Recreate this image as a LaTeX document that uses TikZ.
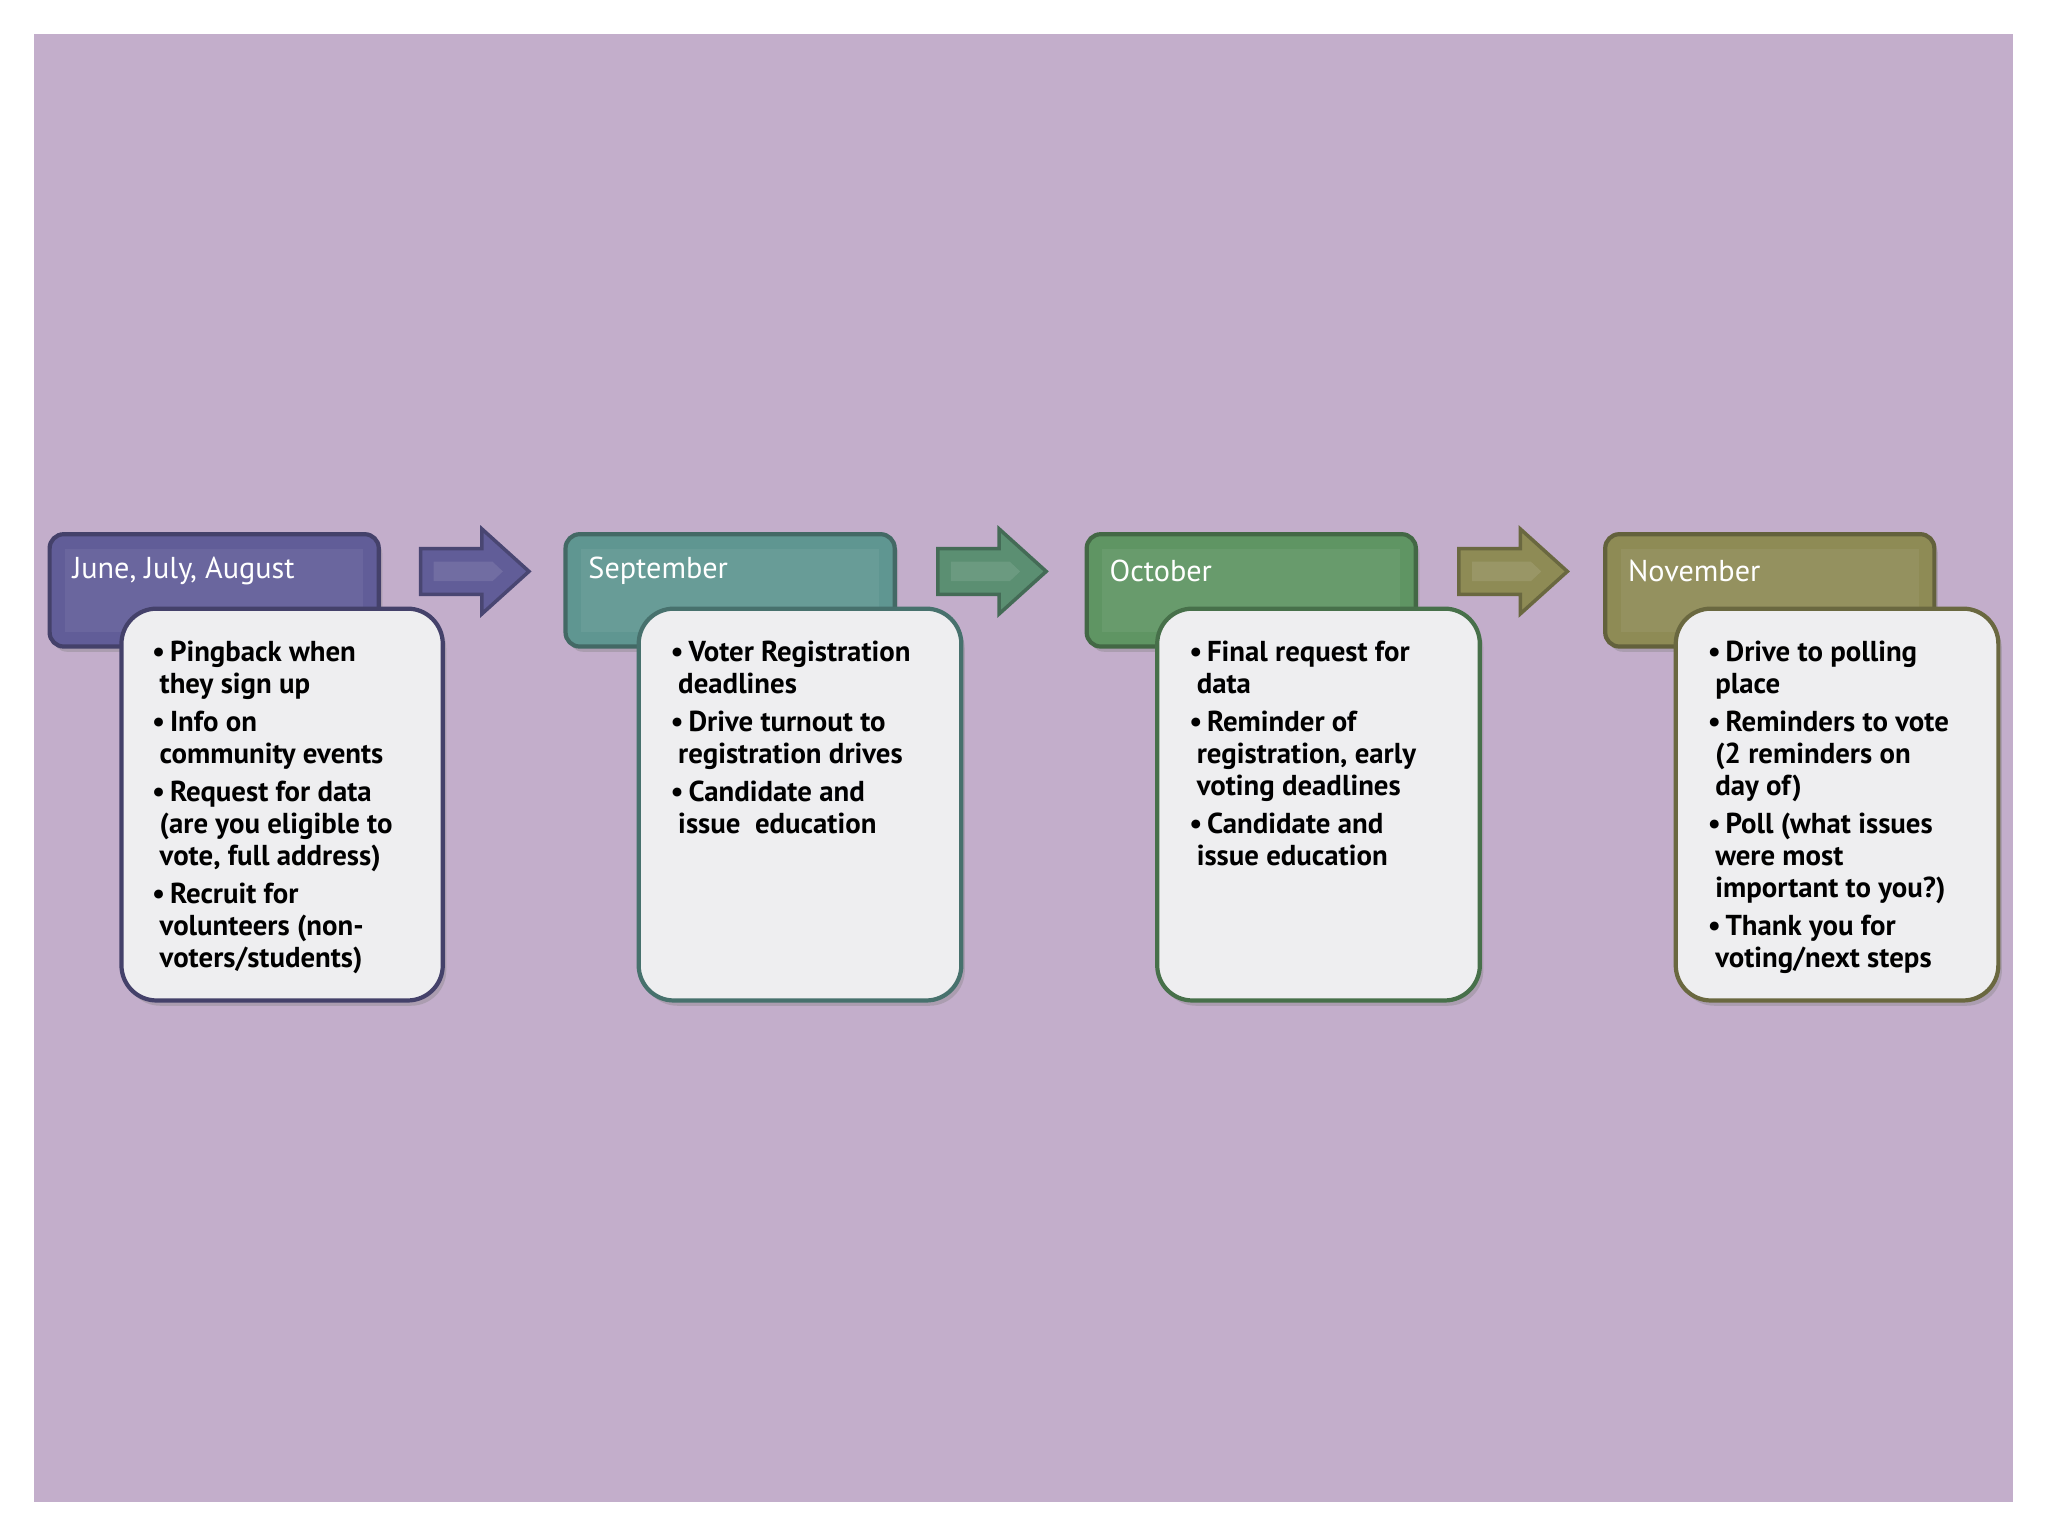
\documentclass[tikz,border=0pt]{standalone}
\usepackage{fontspec}
\setmainfont{PT Sans}
\usetikzlibrary{shadows}
\definecolor{bg}{HTML}{C3AECB}
\definecolor{cA}{HTML}{615D98}
\definecolor{cB}{HTML}{5F9691}
\definecolor{cC}{HTML}{5F9563}
\definecolor{cD}{HTML}{8E8B55}
\definecolor{aB}{HTML}{5B8F72}
\definecolor{boxfill}{HTML}{EEEEF0}
\newcommand{\ci}{\hspace*{0.075cm}}
\begin{document}
\begin{tikzpicture}[x=0.013061cm,y=-0.013061cm,
  hdr/.style={draw=#1!70!black,line width=1.2pt,rounded corners=4pt,fill=#1,drop shadow={opacity=0.35,shadow xshift=1pt,shadow yshift=-1.5pt}},
  bx/.style={draw=#1,line width=1.2pt,rounded corners=10pt,fill=boxfill,drop shadow={opacity=0.35,shadow xshift=1pt,shadow yshift=-1.5pt}},
  arr/.style={draw=#1!75!black,line width=1pt,fill=#1},
  htxt/.style={text=white,font=\fontsize{8.6}{10}\selectfont,anchor=west,inner sep=0pt},
  btxt/.style={font=\bfseries\fontsize{8.2}{9.1}\selectfont,align=left,anchor=north west,inner sep=0pt}]
\useasboundingbox (0,0) rectangle (1568,1176);
\fill[white] (0,0) rectangle (1568,1176);
\fill[bg] (26,26) rectangle (1541,1150);
\foreach \x/\c in {38/cA,433/cB,832/cC,1229/cD}{
  \draw[hdr=\c] (\x,409) rectangle ++(252,86);
  \fill[white,opacity=0.06] (\x+12,420) rectangle ++(228,64);
}
\foreach \x/\c in {322/cA,718/aB,1117/cD}{
  \draw[arr=\c] (\x,420) -- (\x+47,420) -- (\x+47,405) -- (\x+83,437.5) -- (\x+47,470) -- (\x+47,455) -- (\x,455) -- cycle;
  \fill[white,opacity=0.1] (\x+10,430) -- (\x+55,430) -- (\x+63,437.5) -- (\x+55,445) -- (\x+10,445) -- cycle;
}
\node[htxt] (h1) at (55,437) {June, July, August};
\node[htxt] (h2) at (450,437) {September};
\node[htxt] (h3) at (849,437) {October};
\node[htxt] (h4) at (1246,437) {November};
\draw[bx=cA!70!black] (93,466) rectangle (339,766);
\draw[bx=cB!75!black] (489,466) rectangle (736,766);
\draw[bx=cC!75!black] (886,466) rectangle (1133,766);
\draw[bx=cD!75!black] (1283,466) rectangle (1530,766);
\node[btxt] (t1) at (116,490) {\textbullet\,Pingback when\\\ci they sign up\\[0.06cm]
\textbullet\,Info on\\\ci community events\\[0.06cm]
\textbullet\,Request for data\\\ci (are you eligible to\\\ci vote, full address)\\[0.06cm]
\textbullet\,Recruit for\\\ci volunteers (non-\\\ci voters/students)};
\node[btxt] (t2) at (513,490) {\textbullet\,Voter Registration\\\ci deadlines\\[0.06cm]
\textbullet\,Drive turnout to\\\ci registration drives\\[0.06cm]
\textbullet\,Candidate and\\\ci issue\ \ education};
\node[btxt] (t3) at (910,490) {\textbullet\,Final request for\\\ci data\\[0.06cm]
\textbullet\,Reminder of\\\ci registration, early\\\ci voting deadlines\\[0.06cm]
\textbullet\,Candidate and\\\ci issue education};
\node[btxt] (t4) at (1307,490) {\textbullet\,Drive to polling\\\ci place\\[0.06cm]
\textbullet\,Reminders to vote\\\ci (2 reminders on\\\ci day of)\\[0.06cm]
\textbullet\,Poll (what issues\\\ci were most\\\ci important to you?)\\[0.06cm]
\textbullet\,Thank you for\\\ci voting/next steps};
\end{tikzpicture}
\end{document}
